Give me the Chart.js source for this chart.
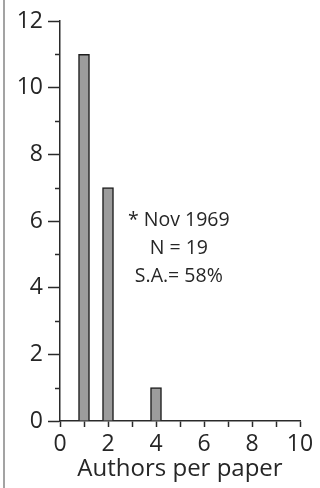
<!DOCTYPE html>
<html>
<head>
<meta charset="utf-8">
<script src="https://cdn.jsdelivr.net/npm/chart.js@4.4.0/dist/chart.umd.min.js"></script>
<style>
    html, body { margin: 0; padding: 0; background: #fff; }
    #wrap { width: 320px; height: 488px; }
    canvas { display: block; }
</style>
</head>
<body>
<div id="wrap"><canvas id="authorsChart" width="320" height="488"></canvas></div>
<script>
/* ================= DATA ================= */
const authorsPerPaper = [1, 2, 4];
const paperCounts = [11, 7, 1];
const xTickValues = [0, 2, 4, 6, 8, 10];
const yTickValues = [0, 2, 4, 6, 8, 10, 12];
const yMinorTicks = [1, 3, 5, 7, 9, 11];
const noteLines = ['* Nov 1969', 'N = 19', 'S.A.= 58%'];
const noteAnchor = { x: 4.95, y: 5.85 };

/* ================= STYLE ================= */
const FONT = "'Open Sans', 'Liberation Sans', sans-serif";
const AXIS_COLOR = '#2a2a2a';
const TEXT_COLOR = '#262626';

/* ================= PLUGIN: left rule, minor ticks, note ================= */
const extrasPlugin = {
    id: 'extras',
    beforeDraw(chart) {
        const ctx = chart.ctx;
        ctx.save();
        ctx.fillStyle = '#a3a3a3';
        ctx.fillRect(3, 0, 2, chart.height);
        ctx.restore();
    },
    afterDraw(chart) {
        const ctx = chart.ctx;
        const xs = chart.scales.x;
        const ys = chart.scales.y;

        // minor ticks on y axis (shorter than major ones)
        ctx.save();
        ctx.strokeStyle = AXIS_COLOR;
        ctx.lineWidth = 1.5;
        yMinorTicks.forEach(v => {
            const py = Math.round(ys.getPixelForValue(v)) + 0.5;
            ctx.beginPath();
            ctx.moveTo(xs.left - 5, py);
            ctx.lineTo(xs.left, py);
            ctx.stroke();
        });

        // annotation text
        ctx.fillStyle = TEXT_COLOR;
        ctx.font = "19.5px " + FONT;
        ctx.textAlign = 'center';
        ctx.textBaseline = 'alphabetic';
        const px = xs.getPixelForValue(noteAnchor.x);
        const py = ys.getPixelForValue(noteAnchor.y);
        noteLines.forEach((line, i) => ctx.fillText(line, px, py + i * 28));
        ctx.restore();
    }
};

/* ================= CHART ================= */
new Chart(document.getElementById('authorsChart'), {
    type: 'bar',
    data: {
        datasets: [{
            data: authorsPerPaper.map((a, i) => ({ x: a, y: paperCounts[i] })),
            backgroundColor: '#9c9c9c',
            borderColor: '#1e1e1e',
            borderWidth: 1.5,
            borderSkipped: 'start',
            barThickness: 11
        }]
    },
    options: {
        responsive: false,
        animation: false,
        layout: { padding: { left: 8, top: 21, right: 20, bottom: 0 } },
        plugins: { legend: { display: false }, tooltip: { enabled: false } },
        scales: {
            x: {
                type: 'linear',
                min: 0,
                max: 10,
                offset: false,
                afterFit: s => { s.height = 67; },
                border: { display: true, color: AXIS_COLOR, width: 1.5 },
                grid: { display: true, drawOnChartArea: false, offset: false, tickLength: 6, tickColor: AXIS_COLOR, tickWidth: 1.5 },
                ticks: {
                    stepSize: 1,
                    autoSkip: false,
                    maxRotation: 0,
                    padding: 4,
                    color: TEXT_COLOR,
                    font: { family: FONT, size: 23 },
                    callback: v => xTickValues.includes(v) ? String(v) : ''
                },
                title: {
                    display: true,
                    text: 'Authors per paper',
                    color: TEXT_COLOR,
                    font: { family: FONT, size: 24 },
                    padding: { top: 0, bottom: 4 }
                }
            },
            y: {
                min: 0,
                max: 12,
                afterFit: s => { s.width = 52; },
                border: { display: true, color: AXIS_COLOR, width: 1.5 },
                grid: { display: true, drawOnChartArea: false, tickLength: 12, tickColor: AXIS_COLOR, tickWidth: 1.5 },
                ticks: {
                    stepSize: 2,
                    padding: 5,
                    color: TEXT_COLOR,
                    font: { family: FONT, size: 23 },
                    callback: v => yTickValues.includes(v) ? String(v) : ''
                }
            }
        }
    },
    plugins: [extrasPlugin]
});
</script>
</body>
</html>
